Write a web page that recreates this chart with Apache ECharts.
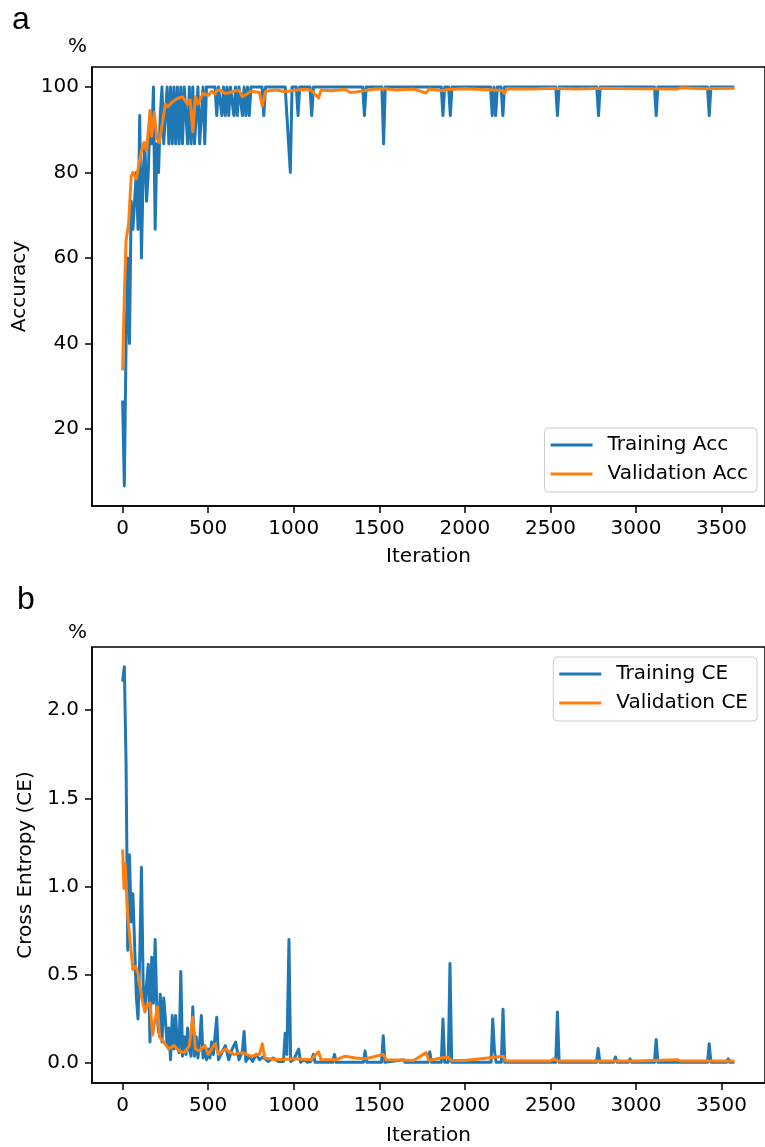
<!DOCTYPE html>
<html>
<head>
<meta charset="utf-8">
<script src="https://cdn.jsdelivr.net/npm/echarts@6/dist/echarts.min.js"></script>
<style>
  html, body { margin: 0; padding: 0; background: #fff; }
  #chart { width: 765px; height: 1147px; }
</style>
</head>
<body>
<div id="chart"></div>
<script>
// x tick labels shared by both panels
var iterTicks = [0, 500, 1000, 1500, 2000, 2500, 3000, 3500];
var accTicks = [20, 40, 60, 80, 100];
var ceTicks = [0, 0.5, 1, 1.5, 2];

// panel a - training accuracy (iteration, %)
var trainAccIter = [0, 10, 20, 30, 40, 50, 60, 70, 80, 90, 100, 110, 120, 130, 140, 150, 160, 170, 180, 190,
  200, 210, 220, 230, 240, 250, 260, 270, 280, 290, 300, 310, 320, 330, 340, 350, 360, 370, 380, 390,
  400, 410, 420, 430, 440, 450, 460, 470, 480, 490, 540, 550, 560, 570, 580, 590, 600, 610, 620, 630,
  640, 650, 660, 670, 680, 690, 700, 710, 720, 730, 740, 750, 815, 825, 835, 950, 960, 970, 980, 990,
  1015, 1025, 1035, 1095, 1105, 1115, 1403, 1413, 1423, 1515, 1525, 1535, 1862, 1872, 1882, 1905, 1915, 1925,
  2150, 2160, 2170, 2180, 2190, 2212, 2222, 2232, 2531, 2541, 2551, 2771, 2781, 2791, 3108, 3118, 3128,
  3418, 3428, 3438, 3575];
var trainAcc = [26.7, 6.7, 40, 60, 40, 73.3, 66.7, 73.3, 80, 66.7, 93.3, 60, 80, 86.7, 73.3, 80, 93.3, 86.7, 100, 66.7,
  86.7, 80, 93.3, 100, 86.7, 93.3, 100, 86.7, 100, 86.7, 100, 86.7, 100, 86.7, 100, 86.7, 100, 93.3, 86.7, 100,
  86.7, 100, 86.7, 86.7, 100, 86.7, 86.7, 100, 86.7, 100, 100, 93.3, 100, 100, 93.3, 100, 93.3, 100, 93.3, 100,
  100, 93.3, 100, 93.3, 100, 100, 93.3, 100, 93.3, 100, 93.3, 100, 100, 93.3, 100, 100, 93.3, 93.3, 80, 100,
  100, 93.3, 100, 100, 93.3, 100, 100, 93.3, 100, 100, 86.7, 100, 100, 93.3, 100, 100, 93.3, 100,
  100, 93.3, 100, 93.3, 100, 100, 93.3, 100, 100, 93.3, 100, 100, 93.3, 100, 100, 93.3, 100,
  100, 93.3, 100, 100];

// panel a - validation accuracy
var valAccIter = [0, 10, 20, 35, 50, 60, 80, 100, 110, 125, 140, 160, 170, 185, 200, 215, 230, 250, 265, 290,
  320, 350, 380, 395, 410, 425, 440, 470, 500, 520, 540, 550, 570, 600, 620, 650, 680, 700, 720, 750,
  760, 800, 816, 835, 900, 950, 1000, 1050, 1100, 1145, 1160, 1220, 1300, 1330, 1370, 1420, 1480, 1530, 1600,
  1700, 1774, 1790, 1872, 1900, 2000, 2100, 2220, 2230, 2245, 2400, 2500, 2650, 2800, 3000, 3240, 3260, 3400, 3575];
var valAcc = [33.7, 51, 64, 68, 79, 80, 78.5, 83, 85, 87, 85, 94.5, 88.5, 94, 88, 87, 91, 96, 95.4, 96.5,
  97.3, 97.7, 96, 97, 89.5, 97.7, 96, 98.5, 98, 99, 98.3, 99.2, 99.3, 98.5, 98.6, 99, 99.2, 97.7, 98.2, 99,
  99.3, 98.7, 95.5, 99, 99.3, 98.9, 99.2, 99.4, 99.3, 97.4, 99.3, 99.1, 99.4, 98.7, 98.9, 99.2, 99.5, 99.6, 99.3,
  99.5, 98.6, 99.5, 99.1, 99.4, 99.6, 99.4, 99.2, 98.5, 99.6, 99.5, 99.7, 99.5, 99.7, 99.6, 99.5, 99.8, 99.6, 99.7];

// panel b - training cross entropy
var trainCeIter = [0, 10, 20, 30, 40, 50, 60, 70, 80, 90, 100, 110, 120, 130, 140, 150, 160, 170, 180, 190,
  200, 210, 220, 230, 240, 250, 260, 270, 280, 290, 300, 310, 320, 330, 340, 350, 360, 370, 380, 390,
  400, 410, 420, 430, 440, 450, 460, 470, 480, 490, 500, 510, 520, 530, 550, 560, 580, 600, 620, 640,
  660, 680, 700, 710, 720, 740, 760, 780, 800, 820, 850, 880, 910, 940, 950, 960, 972, 982, 1000, 1029, 1040,
  1060, 1080, 1100, 1115, 1125, 1228, 1238, 1248, 1407, 1417, 1427, 1513, 1523, 1533, 1640, 1650, 1785, 1795, 1805,
  1862, 1872, 1882, 1903, 1913, 1923, 2153, 2163, 2173, 2183, 2213, 2223, 2233, 2531, 2541, 2551, 2769, 2779, 2789,
  2870, 2880, 2890, 2955, 2965, 2975, 3108, 3118, 3128, 3418, 3428, 3438, 3529, 3539, 3549, 3575];
var trainCe = [2.16, 2.245, 1.7, 0.64, 1.18, 0.8, 0.96, 0.95, 0.38, 0.25, 0.6, 1.11, 0.45, 0.3, 0.45, 0.56, 0.12, 0.6, 0.34, 0.7,
  0.3, 0.175, 0.39, 0.12, 0.37, 0.25, 0.1, 0.2, 0.02, 0.27, 0.08, 0.27, 0.1, 0.06, 0.52, 0.04, 0.15, 0.05, 0.2, 0.08,
  0.04, 0.32, 0.04, 0.15, 0.03, 0.12, 0.27, 0.03, 0.1, 0.02, 0.08, 0.03, 0.12, 0.05, 0.26, 0.02, 0.06, 0.1, 0.02, 0.08,
  0.12, 0.02, 0.07, 0.18, 0.01, 0.04, 0.01, 0.05, 0.02, 0.035, 0.01, 0.03, 0.01, 0.01, 0.17, 0.05, 0.7, 0.01, 0.02, 0.08, 0.005,
  0.02, 0.005, 0.01, 0.05, 0.005, 0.005, 0.05, 0.005, 0.005, 0.07, 0.005, 0.005, 0.155, 0.005, 0.02, 0.005, 0.005, 0.065, 0.005,
  0.005, 0.25, 0.005, 0.005, 0.565, 0.005, 0.005, 0.25, 0.07, 0.005, 0.005, 0.305, 0.005, 0.005, 0.29, 0.005, 0.005, 0.083, 0.005,
  0.005, 0.035, 0.005, 0.005, 0.025, 0.005, 0.005, 0.135, 0.005, 0.005, 0.11, 0.005, 0.005, 0.025, 0.005, 0.005];

// panel b - validation cross entropy
var valCeIter = [0, 8, 15, 30, 40, 60, 75, 90, 110, 130, 145, 160, 175, 190, 205, 215, 240, 270, 300, 330,
  360, 390, 410, 425, 450, 480, 500, 540, 560, 600, 650, 700, 750, 800, 816, 830, 900, 1000, 1100, 1145,
  1160, 1250, 1300, 1360, 1420, 1523, 1540, 1700, 1774, 1790, 1860, 1900, 1920, 2000, 2226, 2240, 2500,
  2520, 2540, 3000, 3240, 3260, 3575];
var valCe = [1.21, 0.99, 1.13, 0.83, 0.73, 0.53, 0.55, 0.51, 0.38, 0.29, 0.33, 0.34, 0.16, 0.25, 0.32, 0.15, 0.12, 0.08, 0.1, 0.07,
  0.06, 0.1, 0.26, 0.08, 0.07, 0.1, 0.05, 0.11, 0.05, 0.08, 0.05, 0.06, 0.04, 0.05, 0.11, 0.03, 0.02, 0.025, 0.02, 0.065,
  0.02, 0.02, 0.04, 0.03, 0.025, 0.05, 0.02, 0.015, 0.06, 0.015, 0.03, 0.035, 0.015, 0.015, 0.04, 0.012, 0.012,
  0.025, 0.012, 0.012, 0.02, 0.012, 0.012];

var BLUE = '#1f77b4';
var ORANGE = '#ff7f0e';
var FONT = 'DejaVu Sans';
var FS = 20;

function pairs (xs, ys) {
  var out = [];
  for (var i = 0; i < xs.length; i++) {
    out.push([xs[i], ys[i]]);
  }
  return out;
}

function xAxisFor (idx, gap) {
  return {
    type: 'value',
    gridIndex: idx,
    min: -179,
    max: 3754,
    name: 'Iteration',
    nameLocation: 'middle',
    nameGap: gap,
    nameTextStyle: { color: '#000', fontSize: FS, fontFamily: FONT },
    axisLine: { show: true, onZero: false, lineStyle: { color: '#000', width: 1.5 } },
    axisTick: { show: true, length: 7, customValues: iterTicks, lineStyle: { color: '#000', width: 1.5 } },
    axisLabel: {
      customValues: iterTicks, color: '#000', fontSize: FS, fontFamily: FONT, margin: 13,
      formatter: function (v) { return String(v); }
    },
    splitLine: { show: false }
  };
}

function yAxisFor (idx, min, max, ticks, name, gap, fmt) {
  return {
    type: 'value',
    gridIndex: idx,
    min: min,
    max: max,
    name: name,
    nameLocation: 'middle',
    nameGap: gap,
    nameTextStyle: { color: '#000', fontSize: FS, fontFamily: FONT },
    axisLine: { show: true, onZero: false, lineStyle: { color: '#000', width: 1.5 } },
    axisTick: { show: true, length: 7, customValues: ticks, lineStyle: { color: '#000', width: 1.5 } },
    axisLabel: { customValues: ticks, color: '#000', fontSize: FS, fontFamily: FONT, margin: 13, formatter: fmt },
    splitLine: { show: false }
  };
}

function legendFor (top, names) {
  return {
    orient: 'vertical',
    right: 8,
    top: top,
    data: names,
    icon: 'rect',
    itemWidth: 42,
    itemHeight: 3,
    itemGap: 9,
    padding: [7, 9, 8, 6],
    borderColor: '#cccccc',
    borderWidth: 1,
    borderRadius: 4,
    backgroundColor: 'rgba(255,255,255,0.8)',
    textStyle: { color: '#000', fontSize: FS, fontFamily: FONT, padding: [0, 0, 0, 10] }
  };
}

function lineSeries (name, idx, data, color, z) {
  return {
    name: name,
    type: 'line',
    xAxisIndex: idx,
    yAxisIndex: idx,
    data: data,
    showSymbol: false,
    symbol: 'none',
    z: z,
    lineStyle: { color: color, width: 3, join: 'round' },
    itemStyle: { color: color }
  };
}

var chart = echarts.init(document.getElementById('chart'), null, { renderer: 'canvas' });
chart.setOption({
  animation: false,
  backgroundColor: '#fff',
  grid: [
    { left: 92, top: 67, width: 677, height: 439, show: true, borderColor: '#000', borderWidth: 1.5, backgroundColor: 'transparent' },
    { left: 92, top: 647, width: 677, height: 437, show: true, borderColor: '#000', borderWidth: 1.5, backgroundColor: 'transparent' }
  ],
  xAxis: [xAxisFor(0, 41), xAxisFor(1, 43)],
  yAxis: [
    yAxisFor(0, 2.0, 104.67, accTicks, 'Accuracy', 60, function (v) { return String(v); }),
    yAxisFor(1, -0.112, 2.357, ceTicks, 'Cross Entropy (CE)', 55, function (v) { return v.toFixed(1); })
  ],
  legend: [
    legendFor(428, ['Training Acc', 'Validation Acc']),
    legendFor(657, ['Training CE', 'Validation CE'])
  ],
  graphic: [
    { type: 'text', left: 12, top: 4, style: { text: 'a', font: '32px "Liberation Sans"', fill: '#000' } },
    { type: 'text', left: 17, top: 584, style: { text: 'b', font: '32px "Liberation Sans"', fill: '#000' } },
    { type: 'text', left: 68, top: 37, style: { text: '%', font: '20px "DejaVu Sans"', fill: '#000' } },
    { type: 'text', left: 68, top: 623, style: { text: '%', font: '20px "DejaVu Sans"', fill: '#000' } }
  ],
  series: [
    lineSeries('Training Acc', 0, pairs(trainAccIter, trainAcc), BLUE, 2),
    lineSeries('Validation Acc', 0, pairs(valAccIter, valAcc), ORANGE, 3),
    lineSeries('Training CE', 1, pairs(trainCeIter, trainCe), BLUE, 2),
    lineSeries('Validation CE', 1, pairs(valCeIter, valCe), ORANGE, 3)
  ]
});
</script>
</body>
</html>
